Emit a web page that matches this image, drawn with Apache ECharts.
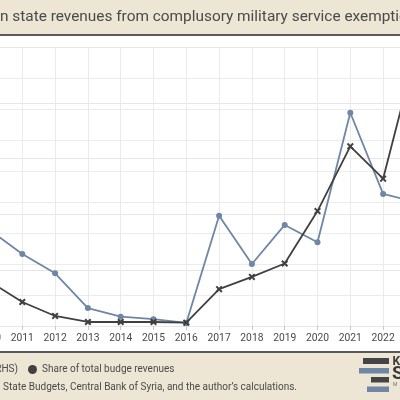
<!DOCTYPE html>
<html><head><meta charset="utf-8">
<script src="https://cdn.jsdelivr.net/npm/echarts@6/dist/echarts.min.js"></script>
<style>html,body{margin:0;padding:0;background:#fff}#c{width:400px;height:400px}</style>
</head><body><div id="c"></div>
<script>
// ---- data ----
const years = ['2010','2011','2012','2013','2014','2015','2016','2017','2018','2019','2020','2021','2022','2023'];
const shareOfBudgetRevenues = [1.55, 1.16, 0.85, 0.29, 0.15, 0.11, 0.05, 1.78, 1.00, 1.63, 1.35, 3.44, 2.13, 2.00];
const exemptionRevenues = [40, 21.5, 9, 3.6, 3.6, 3.6, 3, 33, 44, 56, 103, 161, 132, 246];
const leftAxisTicks = [0, 0.5, 1, 1.5, 2, 2.5, 3, 3.5, 4, 4.5];
const rightAxisTicks = [0, 50, 100, 150, 200, 250];
const titleText = 'Syrian state revenues from complusory military service exemptions';
const seriesNames = ['Revenues from exemption fees, USD million (RHS)', 'Share of total budge revenues'];
const sourceText = 'Source: Syrian State Budgets, Central Bank of Syria, and the author\u2019s calculations.';

const FONT = 'Roboto';
const BEIGE = '#ede6d5';
const DARK = '#404040';
const BLUE = '#6f87a4';
const TXT = '#4a4a4a';

function textWidth(t, size, weight) {
  const c = document.createElement('canvas').getContext('2d');
  c.font = (weight || 'normal') + ' ' + size + 'px ' + FONT;
  return c.measureText(t).width;
}
const titleSize = 15.4;
const titleOffset = -textWidth('Syria', titleSize);

const chart = echarts.init(document.getElementById('c'), null, {renderer: 'canvas'});
const crossPath = 'path://M2,0 L5,3 L8,0 L10,2 L7,5 L10,8 L8,10 L5,7 L2,10 L0,8 L3,5 L0,2 Z';

chart.setOption({
  backgroundColor: '#ffffff',
  animation: false,
  textStyle: {fontFamily: FONT},
  grid: {left: -10.5, right: -15.9, top: 47, bottom: 74, containLabel: false, outerBoundsMode: 'none'},
  xAxis: {
    type: 'category', data: years, boundaryGap: false,
    axisLine: {show: false},
    axisTick: {show: true, length: 4, lineStyle: {color: '#c8c8c8'}},
    axisLabel: {color: TXT, fontSize: 10.3, margin: 7, fontFamily: FONT, interval: 0, hideOverlap: false},
    splitLine: {show: true, lineStyle: {color: '#ebebeb', width: 1}}
  },
  yAxis: [
    {type: 'value', position: 'left', min: leftAxisTicks[0], max: leftAxisTicks[leftAxisTicks.length-1],
     interval: leftAxisTicks[1]-leftAxisTicks[0],
     axisLabel: {show: false}, axisLine: {show: false}, axisTick: {show: false},
     splitLine: {show: true, lineStyle: {color: '#ececec', width: 1}}},
    {type: 'value', position: 'right', min: rightAxisTicks[0], max: rightAxisTicks[rightAxisTicks.length-1],
     interval: rightAxisTicks[1]-rightAxisTicks[0],
     axisLabel: {show: false}, axisLine: {show: false}, axisTick: {show: false},
     splitLine: {show: true, lineStyle: {color: '#e6e6e6', width: 1}}}
  ],
  legend: [
    {data: [{name: seriesNames[1], icon: 'circle', itemStyle: {color: DARK}}],
     left: 28, top: 364.5, padding: 0, itemWidth: 9, itemHeight: 9, itemGap: 10,
     textStyle: {color: TXT, fontSize: 10, fontFamily: FONT}},
    {data: [{name: seriesNames[0], icon: crossPath, itemStyle: {color: DARK}}],
     right: 382, top: 364.5, padding: 0, itemWidth: 9, itemHeight: 9,
     textStyle: {color: TXT, fontSize: 10, fontFamily: FONT}}
  ],
  graphic: [
    {type: 'rect', left: 0, top: 0, shape: {width: 400, height: 34}, style: {fill: BEIGE}, z: 0},
    {type: 'rect', left: 0, top: 34, shape: {width: 400, height: 2}, style: {fill: '#5a5a5a'}, z: 0},
    {type: 'text', x: titleOffset, y: 17, style: {text: titleText, fill: TXT, font: 'normal ' + titleSize + 'px ' + FONT, textVerticalAlign: 'middle', textAlign: 'left'}, z: 10},
    {type: 'rect', left: 0, top: 351, shape: {width: 400, height: 49}, style: {fill: BEIGE}, z: 0},
    {type: 'rect', left: 0, top: 351, shape: {width: 400, height: 2}, style: {fill: '#5a5a5a'}, z: 1},
    {type: 'text', x: 297, y: 387, style: {text: sourceText, fill: TXT, font: 'normal 10px ' + FONT, textAlign: 'right', textVerticalAlign: 'middle'}, z: 10},
    // logo
    {type: 'rect', x: 363, y: 358, shape: {width: 26, height: 6}, style: {fill: '#454545'}, z: 5},
    {type: 'rect', x: 359, y: 368, shape: {width: 30, height: 5.5}, style: {fill: '#6f87a4'}, z: 5},
    {type: 'rect', x: 371, y: 377, shape: {width: 18, height: 5.5}, style: {fill: '#454545'}, z: 5},
    {type: 'rect', x: 367, y: 386.5, shape: {width: 22, height: 5.5}, style: {fill: '#6f87a4'}, z: 5},
    {type: 'text', x: 392.5, y: 362, style: {text: 'K', fill: '#3a3a3a', font: 'bold 12px ' + FONT, textVerticalAlign: 'middle'}, z: 5},
    {type: 'text', x: 392, y: 374.5, style: {text: 'S', fill: '#3a3a3a', font: 'bold 19px ' + FONT, textVerticalAlign: 'middle'}, z: 5},
    {type: 'text', x: 393, y: 385, style: {text: 'M', fill: '#777', font: 'normal 5px ' + FONT, textVerticalAlign: 'middle'}, z: 5}
  ],
  series: [
    {name: seriesNames[0], type: 'line', yAxisIndex: 1, data: exemptionRevenues,
     symbol: crossPath, symbolSize: 7, showSymbol: true,
     lineStyle: {color: DARK, width: 1.8}, itemStyle: {color: DARK}, z: 3},
    {name: seriesNames[1], type: 'line', yAxisIndex: 0, data: shareOfBudgetRevenues,
     symbol: 'circle', symbolSize: 6, showSymbol: true,
     lineStyle: {color: BLUE, width: 1.8}, itemStyle: {color: BLUE}, z: 2}
  ]
});
</script></body></html>
